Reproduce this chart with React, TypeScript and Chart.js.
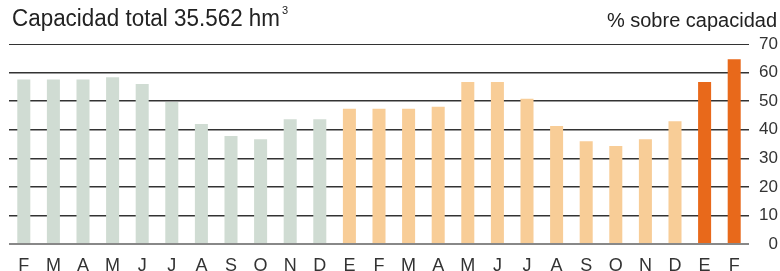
import React, { useEffect, useRef } from "react";
import { Chart, registerables } from "chart.js";

Chart.register(...registerables);

const months = ["F", "M", "A", "M", "J", "J", "A", "S", "O", "N", "D", "E", "F", "M", "A", "M", "J", "J", "A", "S", "O", "N", "D", "E", "F"];
const values = [57.6, 57.6, 57.6, 58.4, 56.0, 49.7, 42.0, 37.8, 36.7, 43.7, 43.7, 47.3, 47.3, 47.3, 48.0, 56.7, 56.7, 50.8, 41.3, 36.0, 34.3, 36.7, 43.0, 56.7, 64.7];
const groups = [0, 0, 0, 0, 0, 0, 0, 0, 0, 0, 0, 1, 1, 1, 1, 1, 1, 1, 1, 1, 1, 1, 1, 2, 2];
const groupColors = ["#d0dcd3", "#f8cd97", "#e8691b"];
const yTicks = [0, 10, 20, 30, 40, 50, 60, 70];
const titleText = "Capacidad total 35.562 hm";
const unitText = "% sobre capacidad";

const FONT = "'Liberation Sans', Arial, sans-serif";

const textPlugin = {
  id: "texts",
  afterDraw(chart: any) {
    const ctx = chart.ctx;
    ctx.save();
    ctx.fillStyle = "#222";
    ctx.textBaseline = "alphabetic";
    ctx.font = `23px ${FONT}`;
    ctx.textAlign = "left";
    const natural = ctx.measureText(titleText).width;
    const targetW = 268;
    const sx = targetW / natural;
    ctx.save();
    ctx.translate(12, 26);
    ctx.scale(sx, 1);
    ctx.fillText(titleText, 0, 0);
    ctx.restore();
    ctx.font = `11px ${FONT}`;
    ctx.fillText("3", 12 + targetW + 2, 14);
    ctx.font = `20px ${FONT}`;
    ctx.textAlign = "right";
    ctx.fillText(unitText, 777, 27);
    ctx.restore();
  },
};

export default function App() {
  const ref = useRef<HTMLCanvasElement>(null);
  useEffect(() => {
    document.body.style.margin = "0";
    const chart = new Chart(ref.current as HTMLCanvasElement, {
      type: "bar",
      data: {
        labels: months,
        datasets: [
          {
            data: values,
            backgroundColor: groups.map((g) => groupColors[g]),
            categoryPercentage: 1,
            barPercentage: 0.44,
          },
        ],
      },
      options: {
        animation: false,
        responsive: false,
        layout: { padding: { top: 44, left: 9, right: 2, bottom: 0 } },
        plugins: { legend: { display: false }, tooltip: { enabled: false }, title: { display: false } },
        scales: {
          x: {
            grid: { display: false },
            border: { display: false },
            ticks: { color: "#333", font: { family: FONT, size: 18 }, padding: 3, maxRotation: 0, autoSkip: false },
            afterFit: (s: any) => {
              s.height = 27;
            },
          },
          y: {
            position: "right",
            min: 0,
            max: 70,
            z: 1,
            afterBuildTicks: (s: any) => {
              s.ticks = yTicks.map((v) => ({ value: v }));
            },
            grid: {
              drawTicks: false,
              color: (c: any) => (c.tick && c.tick.value === 0 ? "#888" : "#333"),
              lineWidth: (c: any) => (c.tick && c.tick.value === 0 ? 2 : c.tick && c.tick.value === 70 ? 1 : 1.5),
            },
            border: { display: false },
            ticks: { color: "#333", font: { family: FONT, size: 17 }, padding: 4, crossAlign: "far" },
            afterFit: (s: any) => {
              s.width = 29;
            },
          },
        },
      },
      plugins: [textPlugin],
    });
    return () => chart.destroy();
  }, []);
  return (
    <div style={{ position: "absolute", left: 0, top: 0, width: 780, height: 271, background: "#fff" }}>
      <canvas ref={ref} width={780} height={271} />
    </div>
  );
}
